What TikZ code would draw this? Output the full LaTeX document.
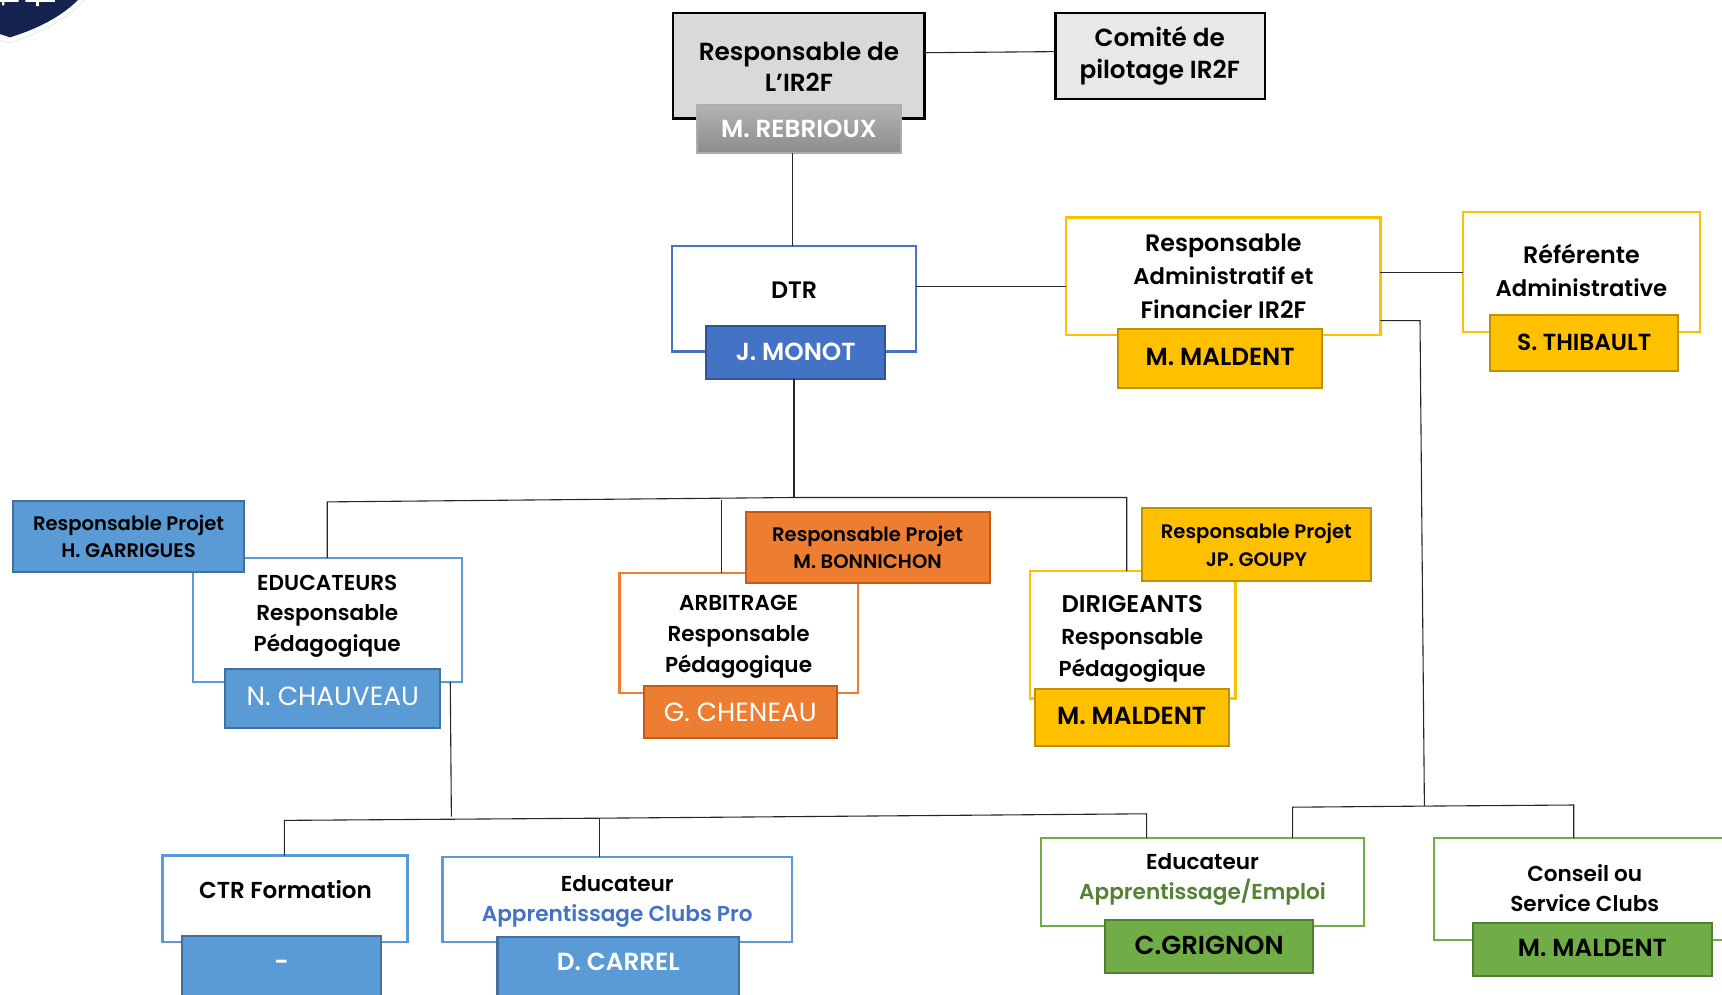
\documentclass[tikz,border=0pt]{standalone}
\usepackage{fontspec}
\setmainfont{Poppins}[BoldFont={Poppins SemiBold}]
\usetikzlibrary{calc}
\definecolor{cblue}{HTML}{4472C4}
\definecolor{cblued}{HTML}{2F5597}
\definecolor{csky}{HTML}{5B9BD5}
\definecolor{cskyd}{HTML}{41719C}
\definecolor{corg}{HTML}{ED7D31}
\definecolor{corgd}{HTML}{C55A11}
\definecolor{cyel}{HTML}{FFC000}
\definecolor{cyeld}{HTML}{BF9000}
\definecolor{cgrn}{HTML}{70AD47}
\definecolor{cgrnd}{HTML}{507E32}
\definecolor{cgrnt}{HTML}{548235}
\definecolor{cnavy}{HTML}{14234F}
\newcommand{\bx}[6]{% name, x1,y1,x2,y2, style
  \pgfmathsetmacro{\bw}{(#4-#2)*0.6}\pgfmathsetmacro{\bh}{(#5-#3)*0.6}
  \node[#6,minimum width=\bw pt,minimum height=\bh pt] (#1) at ({(#2+#4)/2},{(#3+#5)/2}) {};}
\newcommand{\sbx}[7]{% as \bx with text
  \pgfmathsetmacro{\bw}{(#4-#2)*0.6}\pgfmathsetmacro{\bh}{(#5-#3)*0.6}
  \node[#6,minimum width=\bw pt,minimum height=\bh pt] (#1) at ({(#2+#4)/2},{(#3+#5)/2}) {#7};}
\newcommand{\up}[2]{\raisebox{#1pt}{#2}}
\newcommand{\sz}[2]{{\fontsize{#1}{#1}\selectfont #2}}
\tikzset{
  outer/.style={draw,line width=1.2pt,fill=white,inner sep=0pt,outer sep=0pt},
  greybox/.style={draw=black,line width=1.35pt,inner sep=0pt,outer sep=0pt},
  sub/.style={draw,line width=1.1pt,inner sep=0pt,outer sep=0pt,font=\bfseries\fontsize{13.5}{16}\selectfont},
  proj/.style={line width=1.1pt,align=center,inner sep=0pt,outer sep=0pt,font=\bfseries\fontsize{10.7}{15}\selectfont},
  lbl/.style={align=center,inner sep=0pt,font=\bfseries\fontsize{13}{17}\selectfont},
  link/.style={draw=black!85,line width=0.6pt},
}
\begin{document}
\begin{tikzpicture}[x=0.6pt,y=-0.6pt]
\useasboundingbox (0,0) rectangle (1568,905.2);
\clip (0,0) rectangle (1568,905.2);
% logo corner
\fill[white,draw=black!12,line width=0.3pt] (0,37) -- (9,39) .. controls (35,31) and (60,18) .. (77,0) -- (0,0) -- cycle;
\fill[cnavy] (0,31) -- (9,34) .. controls (32,27) and (55,16) .. (71,0) -- (0,0) -- cycle;
\fill[white] (0,0) rectangle (17,1.6) (2,0) rectangle (4,5) (23,0) rectangle (50,1.6) (33,0) rectangle (35.5,5.5);
% connector junctions
\coordinate (jtop) at (723,453);
\coordinate (jl) at (298,457);
\coordinate (jm) at (657,455);
\coordinate (jr) at (1026,453);
\coordinate (ja) at (1293,292);
\coordinate (jb) at (1297,734);
\coordinate (jgl) at (1177,735);
\coordinate (jgr) at (1433,733);
\coordinate (jc) at (411,743.5);
\coordinate (jbl) at (259,747);
\coordinate (jbm) at (546,745);
\coordinate (jbr) at (1044,741);
% boxes
\bx{resp}{613}{12}{842}{108}{greybox,fill=black!15}
\sbx{rebrioux}{635}{96}{820}{139}{sub,draw=black!32,top color=black!30,bottom color=black!45,text=white}{\up{-3.5}{M. REBRIOUX}}
\bx{comite}{961}{12}{1152}{90}{greybox,fill=black!9}
\bx{dtr}{612}{224}{834}{320}{outer,draw=cblue}
\sbx{monot}{643}{297}{806}{345}{sub,draw=cblued,fill=cblue,text=white}{\up{0.6}{J. MONOT}}
\bx{raf}{971}{198}{1257}{305}{outer,draw=cyel}
\sbx{maldenta}{1018}{300}{1204}{353}{sub,draw=cyeld,fill=cyel}{\up{2.4}{M. MALDENT}}
\bx{referente}{1332}{193}{1548}{302}{outer,draw=cyel}
\sbx{thibault}{1357}{287}{1528}{338}{sub,draw=cyeld,fill=cyel,font=\bfseries\fontsize{12.7}{16}\selectfont}{\up{1.5}{S. THIBAULT}}
\bx{educ}{176}{508}{421}{621}{outer,draw=csky}
\sbx{garrigues}{12}{456}{222}{521}{proj,draw=cskyd,fill=csky}{Responsable Projet\\H. GARRIGUES}
\sbx{chauveau}{205}{609}{401}{663}{sub,draw=cskyd,fill=csky,text=white,font=\fontsize{14.4}{16}\selectfont}{\up{3}{N. CHAUVEAU}}
\bx{arb}{564}{522}{781}{631}{outer,draw=corg}
\sbx{bonnichon}{679}{466}{901}{531}{proj,draw=corgd,fill=corg}{Responsable Projet\\M. BONNICHON}
\sbx{cheneau}{586}{625}{762}{672}{sub,draw=corgd,fill=corg,text=white,font=\fontsize{14.4}{16}\selectfont}{G. CHENEAU}
\bx{dir}{938}{520}{1125}{636}{outer,draw=cyel}
\sbx{goupy}{1040}{463}{1248}{529}{proj,draw=cyeld,fill=cyel}{Responsable Projet\\JP. GOUPY}
\sbx{maldentb}{942}{627}{1119}{679}{sub,draw=cyeld,fill=cyel}{\up{1.8}{M. MALDENT}}
\bx{ctr}{148}{779}{371}{858}{outer,draw=csky}
\sbx{tiret}{166}{852}{347}{925}{sub,draw=cskyd,fill=csky,text=white}{\up{11.8}{-}}
\bx{edupro}{403}{780}{721}{858}{outer,draw=csky}
\sbx{carrel}{453}{853}{673}{925}{sub,draw=cskyd,fill=csky,text=white}{\up{16}{D. CARREL}}
\bx{eduemp}{948}{763}{1242}{843}{outer,draw=cgrn}
\sbx{grignon}{1006}{838}{1196}{886}{sub,draw=cgrnd,fill=cgrn,font=\bfseries\fontsize{14.2}{16}\selectfont}{\up{1.8}{C.GRIGNON}}
\bx{conseil}{1306}{763}{1620}{856}{outer,draw=cgrn}
\sbx{maldentc}{1341}{840}{1559}{889}{sub,draw=cgrnd,fill=cgrn}{\up{1.8}{M. MALDENT}}
% labels
\node[lbl,font=\bfseries\fontsize{13.5}{17}\selectfont] (t1) at (727.5,61) {Responsable de\\L’IR2F};
\node[lbl,font=\bfseries\fontsize{13.5}{17.6}\selectfont] (t2) at (1056,51) {Comité de\\pilotage IR2F};
\node[lbl] (t3) at (723,264) {DTR};
\node[lbl,font=\bfseries\fontsize{13}{18.2}\selectfont] (t4) at (1114,251.5) {Responsable\\\sz{12.4}{Administratif et}\\Financier IR2F};
\node[lbl,font=\bfseries\fontsize{13}{18.2}\selectfont] (t5) at (1440,246) {Référente\\\sz{12.4}{Administrative}};
\node[lbl,font=\bfseries\fontsize{11.8}{16.8}\selectfont] (t6) at (298,561) {EDUCATEURS\\Responsable\\Pédagogique};
\node[lbl,font=\bfseries\fontsize{11.8}{16.8}\selectfont] (t7) at (672.5,580) {ARBITRAGE\\Responsable\\Pédagogique};
\node[lbl,font=\bfseries\fontsize{11.8}{17.5}\selectfont] (t8) at (1031,582) {\sz{13.2}{DIRIGEANTS}\\Responsable\\Pédagogique};
\node[lbl,font=\bfseries\fontsize{12.6}{17}\selectfont] (t9) at (260,810) {CTR Formation};
\node[lbl,font=\bfseries\fontsize{11.8}{16.5}\selectfont] (t10) at (562,821) {Educateur\\\textcolor{cblue}{Apprentissage Clubs Pro}};
\node[lbl,font=\bfseries\fontsize{11.8}{16.5}\selectfont] (t11) at (1095,801) {Educateur\\\textcolor{cgrnt}{Apprentissage/Emploi}};
\node[lbl,font=\bfseries\fontsize{11.8}{16.5}\selectfont] (t12) at (1443,809) {Conseil ou\\Service Clubs};
% connectors
\draw[link] (resp.east |- 0,48) -- (comite.west |- 0,47);
\draw[link] (rebrioux.south -| 722,0) -- (dtr.north -| 722,0);
\draw[link] (dtr.east |- 0,261) -- (raf.west |- 0,261);
\draw[link] (raf.east |- 0,248) -- (referente.west |- 0,248);
\draw[link] (raf.east |- ja) -- (ja) -- (jb);
\draw[link] (jgl |- eduemp.north) -- (jgl) -- (jb) -- (jgr) -- (jgr |- conseil.north);
\draw[link] (monot.south -| jtop) -- (jtop);
\draw[link] (jl |- educ.north) -- (jl) -- (jtop) -- (jr) -- (jr |- dir.north);
\draw[link] (jm) -- (jm |- arb.north);
\draw[link] (410,621) -- (jc);
\draw[link] (jbl |- ctr.north) -- (jbl) -- (jbm) -- (jbr) -- (jbr |- eduemp.north);
\draw[link] (jbm) -- (jbm |- edupro.north);
\end{tikzpicture}
\end{document}
